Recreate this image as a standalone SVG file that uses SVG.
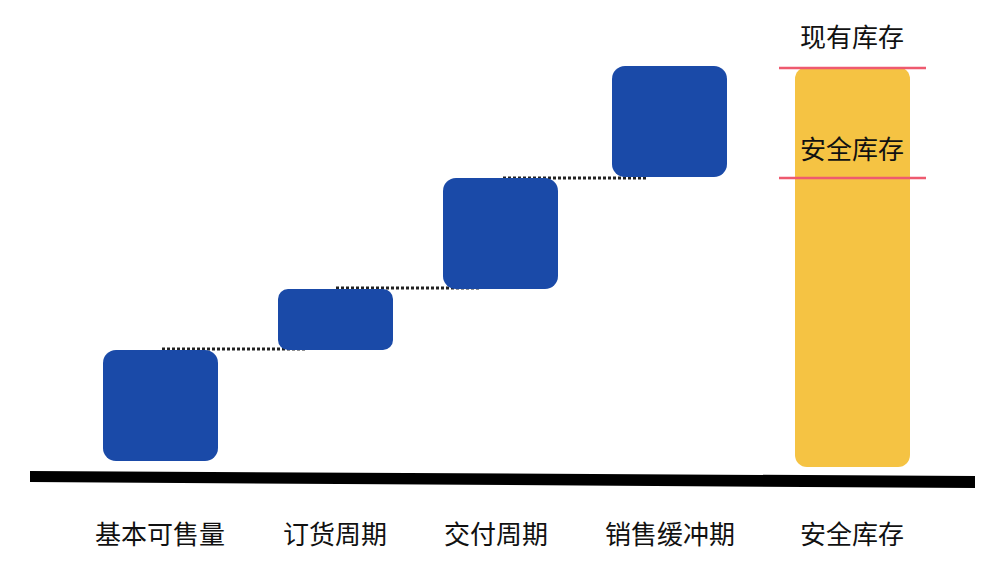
<svg xmlns="http://www.w3.org/2000/svg" width="1001" height="585" viewBox="0 0 1001 585">
<style>
.b{fill:#1a4aa8}
.t{font-family:"Liberation Sans","Noto Sans CJK SC",sans-serif;font-size:26px;fill:#111;text-anchor:middle}
.d{stroke:#222;stroke-width:3;stroke-dasharray:3 2;fill:none}
.r{stroke:#ee5a6f;stroke-width:2.5}
</style>
<rect width="1001" height="585" fill="#fff"/>
<g id="connectors">
<line class="d" x1="162" y1="349" x2="305" y2="349"/>
<line class="d" x1="336" y1="288" x2="480" y2="288"/>
<line class="d" x1="503" y1="178" x2="648" y2="178"/>
</g>
<g id="n1"><rect class="b" x="103" y="350" width="115" height="111" rx="13"/><text class="t" x="160" y="544">基本可售量</text></g>
<g id="n2"><rect class="b" x="278" y="289" width="115" height="61" rx="10"/><text class="t" x="335" y="544">订货周期</text></g>
<g id="n3"><rect class="b" x="443" y="178" width="115" height="111" rx="13"/><text class="t" x="496" y="544">交付周期</text></g>
<g id="n4"><rect class="b" x="612" y="66" width="115" height="111" rx="13"/><text class="t" x="670" y="544">销售缓冲期</text></g>
<g id="n5"><rect x="795" y="67" width="115" height="400" rx="12" fill="#f5c343"/>
<line class="r" x1="779" y1="68" x2="926" y2="68"/><line class="r" x1="779" y1="178" x2="926" y2="178"/>
<text class="t" x="852" y="47">现有库存</text><text class="t" x="852" y="159">安全库存</text><text class="t" x="852" y="544">安全库存</text></g>
<g id="ground"><polygon points="30,471 975,476 975,488 30,482" fill="#000"/></g>
</svg>
